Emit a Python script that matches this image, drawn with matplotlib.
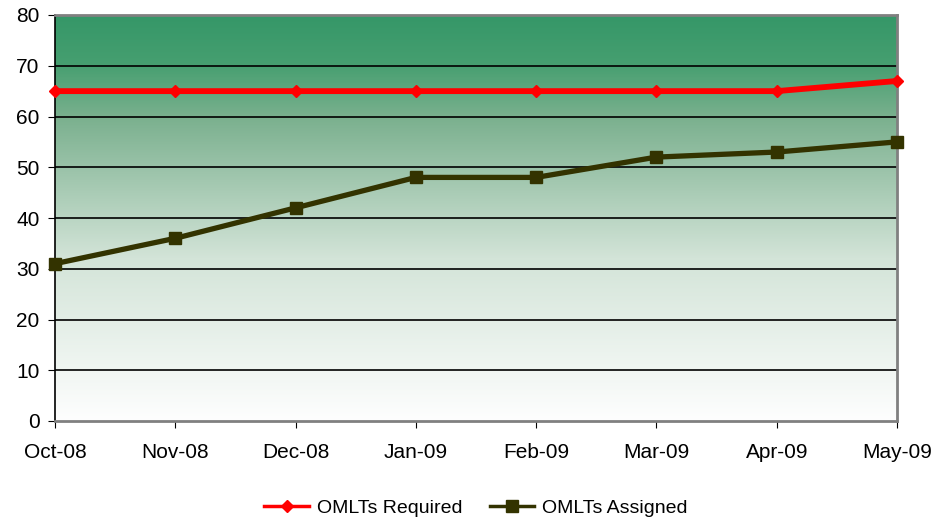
import matplotlib.pyplot as plt
import numpy as np
from matplotlib.colors import LinearSegmentedColormap

months = ['Oct-08', 'Nov-08', 'Dec-08', 'Jan-09', 'Feb-09', 'Mar-09', 'Apr-09', 'May-09']
required = [65, 65, 65, 65, 65, 65, 65, 67]
assigned = [31, 36, 42, 48, 48, 52, 53, 55]

plt.rcParams['font.family'] = ['Liberation Sans', 'DejaVu Sans']

fig = plt.figure(figsize=(9.36, 5.23), dpi=100)
ax = fig.add_axes([55 / 936, 1 - 421 / 523, 842 / 936, 406 / 523])

x = np.arange(len(months))

# gradient background: green at top fading to white
cmap = LinearSegmentedColormap.from_list('bg', [(0, '#fefefe'), (0.4, '#d3e4d8'),
                                               (0.75, '#7ab08e'), (0.88, '#469f70'),
                                               (1, '#359768')])
grad = np.linspace(0, 1, 256).reshape(-1, 1)
ax.imshow(grad, cmap=cmap, origin='lower', aspect='auto',
          extent=[0, len(months) - 1, 0, 80], zorder=0)

for yv in range(10, 80, 10):
    ax.axhline(yv, color='black', lw=1.2, zorder=1)

ax.plot(x, required, color='#ff0000', lw=4.2, marker='D', markersize=6,
        label='OMLTs Required', zorder=3, clip_on=False)
ax.plot(x, assigned, color='#333300', lw=3.8, marker='s', markersize=8,
        label='OMLTs Assigned', zorder=3, clip_on=False)

ax.set_xlim(0, len(months) - 1)
ax.set_ylim(0, 80)
ax.set_yticks(range(0, 81, 10))
ax.set_xticks(x)
ax.set_xticklabels(months)
ax.tick_params(axis='both', labelsize=15, direction='out', length=5, color='black')
ax.tick_params(axis='x', pad=11)
ax.tick_params(axis='y', pad=6)

ax.spines['left'].set_color('black')
for s in ['top', 'right', 'bottom']:
    ax.spines[s].set_color('#808080')
    ax.spines[s].set_linewidth(2)
ax.spines['left'].set_linewidth(1.2)

leg = ax.legend(loc='center', bbox_to_anchor=(0.5, -0.215), ncol=2, frameon=False,
                fontsize=14, handlelength=2.3, columnspacing=1.4, handletextpad=0.4)
for h in leg.get_lines():
    h.set_linewidth(2.5)

plt.savefig('out.png', dpi=100)
